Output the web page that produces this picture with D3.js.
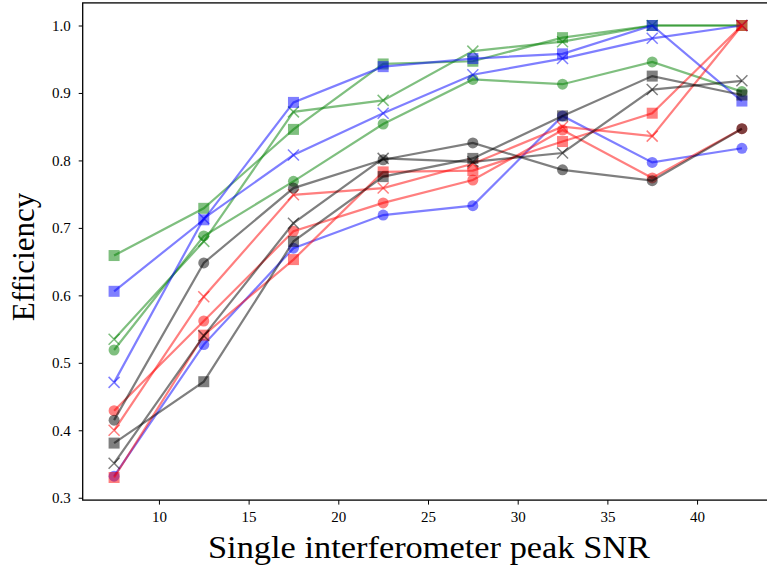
<!DOCTYPE html>
<html><head><meta charset="utf-8">
<script src="https://cdn.jsdelivr.net/npm/d3@7"></script>
<style>body{margin:0;background:#fff;} svg{display:block;}</style>
</head><body>
<svg id="c" width="767" height="569"></svg>
<script>
const snr = [7.5, 12.5, 17.5, 22.5, 27.5, 32.5, 37.5, 42.5];
const xTicks = [10, 15, 20, 25, 30, 35, 40];
const yTicks = [0.3, 0.4, 0.5, 0.6, 0.7, 0.8, 0.9, 1.0];

const greenSquare = [0.659, 0.729, 0.846, 0.943, 0.947, 0.982, 1.0, 1.0];
const greenCircle = [0.519, 0.688, 0.769, 0.854, 0.920, 0.913, 0.946, 0.902];
const greenCross  = [0.535, 0.680, 0.872, 0.889, 0.962, 0.976, 1.0, 1.0];
const blueSquare  = [0.606, 0.712, 0.886, 0.939, 0.951, 0.958, 1.0, 0.888];
const blueCircle  = [0.332, 0.527, 0.670, 0.719, 0.733, 0.866, 0.797, 0.818];
const blueCross   = [0.471, 0.714, 0.808, 0.870, 0.927, 0.951, 0.981, 1.0];
const redSquare   = [0.330, 0.541, 0.653, 0.783, 0.785, 0.828, 0.870, 1.0];
const redCircle   = [0.429, 0.562, 0.695, 0.737, 0.771, 0.845, 0.774, 0.847];
const redCross    = [0.400, 0.598, 0.749, 0.759, 0.795, 0.850, 0.836, 1.0];
const blackSquare = [0.381, 0.472, 0.680, 0.776, 0.803, 0.866, 0.925, 0.897];
const blackCircle = [0.415, 0.648, 0.759, 0.801, 0.826, 0.786, 0.770, 0.847];
const blackCross  = [0.351, 0.540, 0.707, 0.803, 0.798, 0.811, 0.905, 0.918];

const series = [
  {color: "green", marker: "square", values: greenSquare},
  {color: "green", marker: "circle", values: greenCircle},
  {color: "green", marker: "cross", values: greenCross},
  {color: "blue", marker: "square", values: blueSquare},
  {color: "blue", marker: "circle", values: blueCircle},
  {color: "blue", marker: "cross", values: blueCross},
  {color: "red", marker: "square", values: redSquare},
  {color: "red", marker: "circle", values: redCircle},
  {color: "red", marker: "cross", values: redCross},
  {color: "black", marker: "square", values: blackSquare},
  {color: "black", marker: "circle", values: blackCircle},
  {color: "black", marker: "cross", values: blackCross}
];

const svg = d3.select("#c");
const L = 82.7, R = 773.3, T = 2.9, B = 500.1;
const x = d3.scaleLinear().domain([5.75, 44.25]).range([L, R]);
const y = d3.scaleLinear().domain([0.2965, 1.0335]).range([B, T]);
const font = "'Liberation Serif', 'Times New Roman', serif";

// axes
const xAxis = svg.append("g").attr("transform", `translate(0,${B})`)
  .call(d3.axisBottom(x).tickValues(xTicks).tickFormat(d3.format("d")).tickSize(4.5).tickPadding(7));
const yAxis = svg.append("g").attr("transform", `translate(${L},0)`)
  .call(d3.axisLeft(y).tickValues(yTicks).tickFormat(d3.format(".1f")).tickSize(4).tickPadding(8));
[xAxis, yAxis].forEach(g => {
  g.select(".domain").remove();
  g.selectAll("line").attr("stroke", "#000").attr("stroke-width", 1);
  g.selectAll("text").attr("font-family", font).attr("font-size", 15).attr("fill", "#000");
});

const plot = svg.append("g");
const line = d3.line().x((d, i) => x(snr[i])).y(d => y(d));
const ms = 11;
series.forEach(s => {
  const g = plot.append("g");
  g.append("path").attr("d", line(s.values)).attr("fill", "none")
    .attr("stroke", s.color).attr("stroke-opacity", 0.5).attr("stroke-width", 2.2);
  s.values.forEach((v, i) => {
    const cx = x(snr[i]), cy = y(v);
    if (s.marker === "square") {
      g.append("rect").attr("x", cx - ms/2).attr("y", cy - ms/2).attr("width", ms).attr("height", ms)
        .attr("fill", s.color).attr("fill-opacity", 0.5);
    } else if (s.marker === "circle") {
      g.append("circle").attr("cx", cx).attr("cy", cy).attr("r", ms/2)
        .attr("fill", s.color).attr("fill-opacity", 0.5);
    } else {
      const h = ms/2;
      g.append("path").attr("d", `M${cx-h},${cy-h}L${cx+h},${cy+h}M${cx-h},${cy+h}L${cx+h},${cy-h}`)
        .attr("stroke", s.color).attr("stroke-opacity", 0.5).attr("stroke-width", 1.5).attr("fill", "none");
    }
  });
});

// frame
svg.append("rect").attr("x", L).attr("y", T).attr("width", R - L).attr("height", B - T)
  .attr("fill", "none").attr("stroke", "#000").attr("stroke-width", 1.3);

// labels
svg.append("text").attr("x", 208).attr("y", 558)
  .attr("font-family", font).attr("font-size", 32).attr("fill", "#000")
  .attr("textLength", 442).attr("lengthAdjust", "spacingAndGlyphs")
  .text("Single interferometer peak SNR");
svg.append("text").attr("transform", "translate(34,257) rotate(-90)").attr("text-anchor", "middle")
  .attr("font-family", font).attr("font-size", 31).attr("fill", "#000")
  .text("Efficiency");
</script>
</body></html>
